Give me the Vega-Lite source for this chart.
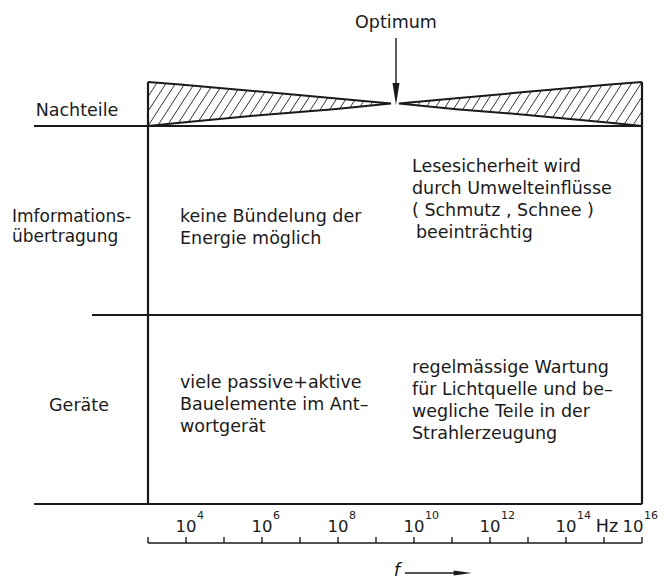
{
  "$schema": "https://vega.github.io/schema/vega-lite/v6.json",
  "width": 664,
  "height": 581,
  "padding": 0,
  "autosize": {"type": "fit", "contains": "padding"},
  "background": "white",
  "config": {"view": {"stroke": null}},
  "datasets": {
    "hatch": [
      {"a": 3, "b": 96.7, "c": 3.25, "d": 82},
      {"a": 3, "b": 111.3, "c": 3.5, "d": 82},
      {"a": 3, "b": 126, "c": 3.75, "d": 82},
      {"a": 3.25, "b": 126, "c": 4, "d": 82},
      {"a": 3.5, "b": 126, "c": 4.25, "d": 82},
      {"a": 3.75, "b": 126, "c": 4.5, "d": 82},
      {"a": 4, "b": 126, "c": 4.75, "d": 82},
      {"a": 4.25, "b": 126, "c": 5, "d": 82},
      {"a": 4.5, "b": 126, "c": 5.25, "d": 82},
      {"a": 4.75, "b": 126, "c": 5.5, "d": 82},
      {"a": 5, "b": 126, "c": 5.75, "d": 82},
      {"a": 5.25, "b": 126, "c": 6, "d": 82},
      {"a": 5.5, "b": 126, "c": 6.25, "d": 82},
      {"a": 5.75, "b": 126, "c": 6.5, "d": 82},
      {"a": 6, "b": 126, "c": 6.75, "d": 82},
      {"a": 6.25, "b": 126, "c": 7, "d": 82},
      {"a": 6.5, "b": 126, "c": 7.25, "d": 82},
      {"a": 6.75, "b": 126, "c": 7.5, "d": 82},
      {"a": 7, "b": 126, "c": 7.75, "d": 82},
      {"a": 7.25, "b": 126, "c": 8, "d": 82},
      {"a": 7.5, "b": 126, "c": 8.25, "d": 82},
      {"a": 7.75, "b": 126, "c": 8.5, "d": 82},
      {"a": 8, "b": 126, "c": 8.75, "d": 82},
      {"a": 8.25, "b": 126, "c": 9, "d": 82},
      {"a": 8.5, "b": 126, "c": 9.25, "d": 82},
      {"a": 8.75, "b": 126, "c": 9.5, "d": 82},
      {"a": 9, "b": 126, "c": 9.75, "d": 82},
      {"a": 9.25, "b": 126, "c": 10, "d": 82},
      {"a": 9.5, "b": 126, "c": 10.25, "d": 82},
      {"a": 9.75, "b": 126, "c": 10.5, "d": 82},
      {"a": 10, "b": 126, "c": 10.75, "d": 82},
      {"a": 10.25, "b": 126, "c": 11, "d": 82},
      {"a": 10.5, "b": 126, "c": 11.25, "d": 82},
      {"a": 10.75, "b": 126, "c": 11.5, "d": 82},
      {"a": 11, "b": 126, "c": 11.75, "d": 82},
      {"a": 11.25, "b": 126, "c": 12, "d": 82},
      {"a": 11.5, "b": 126, "c": 12.25, "d": 82},
      {"a": 11.75, "b": 126, "c": 12.5, "d": 82},
      {"a": 12, "b": 126, "c": 12.75, "d": 82},
      {"a": 12.25, "b": 126, "c": 13, "d": 82},
      {"a": 12.5, "b": 126, "c": 13.25, "d": 82},
      {"a": 12.75, "b": 126, "c": 13.5, "d": 82},
      {"a": 13, "b": 126, "c": 13.75, "d": 82},
      {"a": 13.25, "b": 126, "c": 14, "d": 82},
      {"a": 13.5, "b": 126, "c": 14.25, "d": 82},
      {"a": 13.75, "b": 126, "c": 14.5, "d": 82},
      {"a": 14, "b": 126, "c": 14.75, "d": 82},
      {"a": 14.25, "b": 126, "c": 15, "d": 82},
      {"a": 14.5, "b": 126, "c": 15.25, "d": 82},
      {"a": 14.75, "b": 126, "c": 15.5, "d": 82},
      {"a": 15, "b": 126, "c": 15.75, "d": 82},
      {"a": 15.25, "b": 126, "c": 16, "d": 82},
      {"a": 15.5, "b": 126, "c": 16, "d": 96.7},
      {"a": 15.75, "b": 126, "c": 16, "d": 111.3}
    ],
    "wedge": [
      {"e": 3, "top": 82, "bot": 126},
      {"e": 3.842, "top": 84.6, "bot": 122.8},
      {"e": 6.092, "top": 92.1, "bot": 114.7},
      {"e": 7.887, "top": 98.2, "bot": 109.2},
      {"e": 9.395, "top": 103.4, "bot": 103.4},
      {"e": 9.605, "top": 103.4, "bot": 103.4},
      {"e": 11.113, "top": 98.2, "bot": 109.2},
      {"e": 12.908, "top": 92.1, "bot": 114.7},
      {"e": 15.158, "top": 84.6, "bot": 122.8},
      {"e": 16, "top": 82, "bot": 126}
    ],
    "outline": [
      {"w": "L", "o": 1, "e": 3, "y": 82},
      {"w": "L", "o": 2, "e": 3.842, "y": 84.6},
      {"w": "L", "o": 3, "e": 6.092, "y": 92.1},
      {"w": "L", "o": 4, "e": 7.887, "y": 98.2},
      {"w": "L", "o": 5, "e": 9.395, "y": 103.4},
      {"w": "L", "o": 6, "e": 7.887, "y": 109.2},
      {"w": "L", "o": 7, "e": 6.092, "y": 114.7},
      {"w": "L", "o": 8, "e": 3.842, "y": 122.8},
      {"w": "L", "o": 9, "e": 3, "y": 126},
      {"w": "R", "o": 1, "e": 16, "y": 82},
      {"w": "R", "o": 2, "e": 15.158, "y": 84.6},
      {"w": "R", "o": 3, "e": 12.908, "y": 92.1},
      {"w": "R", "o": 4, "e": 11.113, "y": 98.2},
      {"w": "R", "o": 5, "e": 9.605, "y": 103.4},
      {"w": "R", "o": 6, "e": 11.113, "y": 109.2},
      {"w": "R", "o": 7, "e": 12.908, "y": 114.7},
      {"w": "R", "o": 8, "e": 15.158, "y": 122.8},
      {"w": "R", "o": 9, "e": 16, "y": 126}
    ],
    "frame": [
      {"a": 0, "b": 126, "c": 16, "d": 126},
      {"a": 1.526, "b": 315, "c": 16, "d": 315},
      {"a": 0, "b": 504, "c": 16, "d": 504},
      {"a": 3, "b": 82, "c": 3, "d": 504},
      {"a": 16, "b": 82, "c": 16, "d": 504}
    ],
    "thin": [
      {"a": 3, "b": 543, "c": 16, "d": 543},
      {"a": 9.526, "b": 38, "c": 9.526, "d": 86},
      {"a": 9.763, "b": 573, "c": 11.08, "d": 573}
    ],
    "ticks": [
      {"e": 3}, {"e": 4}, {"e": 5}, {"e": 6}, {"e": 7}, {"e": 8}, {"e": 9},
      {"e": 10}, {"e": 11}, {"e": 12}, {"e": 13}, {"e": 14}, {"e": 15}, {"e": 16}
    ],
    "headDown": [{"e": 9.526, "y": 94}],
    "headRight": [{"e": 11.28, "y": 573}],
    "centerText": [
      {"e": 1.132, "y": 115.5, "t": "Nachteile"},
      {"e": 1.184, "y": 411, "t": "Geräte"},
      {"e": 9.526, "y": 28, "t": "Optimum"}
    ],
    "rowText": [
      {"e": -0.579, "y": 222, "t": "Imformations-"},
      {"e": -0.579, "y": 242, "t": "übertragung"}
    ],
    "leftText": [
      {"e": 3.842, "y": 222, "t": "keine Bündelung der"},
      {"e": 3.842, "y": 244, "t": "Energie möglich"},
      {"e": 9.947, "y": 172, "t": "Lesesicherheit wird"},
      {"e": 9.947, "y": 194, "t": "durch Umwelteinflüsse"},
      {"e": 9.947, "y": 216, "t": "( Schmutz , Schnee )"},
      {"e": 10.05, "y": 238, "t": "beeinträchtig"},
      {"e": 3.842, "y": 388, "t": "viele passive+aktive"},
      {"e": 3.842, "y": 410, "t": "Bauelemente im Ant–"},
      {"e": 3.842, "y": 432, "t": "wortgerät"},
      {"e": 9.947, "y": 373, "t": "regelmässige Wartung"},
      {"e": 9.947, "y": 395, "t": "für Lichtquelle und be–"},
      {"e": 9.947, "y": 417, "t": "wegliche Teile in der"},
      {"e": 9.947, "y": 439, "t": "Strahlerzeugung"}
    ],
    "tens": [
      {"e": 4, "t": "10", "s": "4"},
      {"e": 6, "t": "10", "s": "6"},
      {"e": 8, "t": "10", "s": "8"},
      {"e": 10, "t": "10", "s": "10"},
      {"e": 12, "t": "10", "s": "12"},
      {"e": 14, "t": "10", "s": "14"},
      {"e": 15.76, "t": "10", "s": "16"}
    ],
    "unit": [{"e": 15.08, "t": "Hz"}],
    "fvar": [{"e": 9.55, "t": "f"}]
  },
  "encoding": {
    "x": {"type": "quantitative", "scale": {"domain": [-0.8947, 16.5789], "nice": false, "zero": false}, "axis": null},
    "y": {"type": "quantitative", "scale": {"domain": [0, 581], "reverse": true, "nice": false, "zero": false}, "axis": null}
  },
  "layer": [
    {
      "data": {"name": "hatch"},
      "mark": {"type": "rule", "stroke": "#333", "strokeWidth": 1},
      "encoding": {
        "x": {"field": "a", "type": "quantitative"},
        "y": {"field": "b", "type": "quantitative"},
        "x2": {"field": "c"},
        "y2": {"field": "d"}
      }
    },
    {
      "data": {"name": "wedge"},
      "mark": {"type": "area", "fill": "white", "stroke": null},
      "encoding": {
        "x": {"field": "e", "type": "quantitative"},
        "y": {"field": "top", "type": "quantitative"},
        "y2": {"datum": 76}
      }
    },
    {
      "data": {"name": "wedge"},
      "mark": {"type": "area", "fill": "white", "stroke": null},
      "encoding": {
        "x": {"field": "e", "type": "quantitative"},
        "y": {"field": "bot", "type": "quantitative"},
        "y2": {"datum": 130}
      }
    },
    {
      "data": {"name": "outline"},
      "mark": {"type": "line", "stroke": "#1a1a1a", "strokeWidth": 2},
      "encoding": {
        "x": {"field": "e", "type": "quantitative"},
        "y": {"field": "y", "type": "quantitative"},
        "detail": {"field": "w"},
        "order": {"field": "o", "type": "quantitative"}
      }
    },
    {
      "data": {"name": "frame"},
      "mark": {"type": "rule", "stroke": "#1a1a1a", "strokeWidth": 2.2},
      "encoding": {
        "x": {"field": "a", "type": "quantitative"},
        "y": {"field": "b", "type": "quantitative"},
        "x2": {"field": "c"},
        "y2": {"field": "d"}
      }
    },
    {
      "data": {"name": "thin"},
      "mark": {"type": "rule", "stroke": "#1a1a1a", "strokeWidth": 1.4},
      "encoding": {
        "x": {"field": "a", "type": "quantitative"},
        "y": {"field": "b", "type": "quantitative"},
        "x2": {"field": "c"},
        "y2": {"field": "d"}
      }
    },
    {
      "data": {"name": "ticks"},
      "mark": {"type": "rule", "stroke": "#1a1a1a", "strokeWidth": 1.4},
      "encoding": {
        "x": {"field": "e", "type": "quantitative"},
        "y": {"datum": 543},
        "y2": {"datum": 537}
      }
    },
    {
      "data": {"name": "headDown"},
      "mark": {"type": "point", "shape": "M-0.32,-1L0.32,-1L0,1Z", "size": 484, "filled": true, "fill": "#1a1a1a", "stroke": null, "opacity": 1},
      "encoding": {
        "x": {"field": "e", "type": "quantitative"},
        "y": {"field": "y", "type": "quantitative"}
      }
    },
    {
      "data": {"name": "headRight"},
      "mark": {"type": "point", "shape": "M-1,-0.28L1,0L-1,0.28Z", "size": 324, "filled": true, "fill": "#1a1a1a", "stroke": null, "opacity": 1},
      "encoding": {
        "x": {"field": "e", "type": "quantitative"},
        "y": {"field": "y", "type": "quantitative"}
      }
    },
    {
      "data": {"name": "centerText"},
      "mark": {"type": "text", "align": "center", "baseline": "alphabetic", "font": "DejaVu Sans", "fontSize": 17.5, "fill": "#1a1a1a"},
      "encoding": {
        "x": {"field": "e", "type": "quantitative"},
        "y": {"field": "y", "type": "quantitative"},
        "text": {"field": "t"}
      }
    },
    {
      "data": {"name": "rowText"},
      "mark": {"type": "text", "align": "left", "baseline": "alphabetic", "font": "DejaVu Sans", "fontSize": 17, "fill": "#1a1a1a"},
      "encoding": {
        "x": {"field": "e", "type": "quantitative"},
        "y": {"field": "y", "type": "quantitative"},
        "text": {"field": "t"}
      }
    },
    {
      "data": {"name": "leftText"},
      "mark": {"type": "text", "align": "left", "baseline": "alphabetic", "font": "DejaVu Sans", "fontSize": 17.5, "fill": "#1a1a1a"},
      "encoding": {
        "x": {"field": "e", "type": "quantitative"},
        "y": {"field": "y", "type": "quantitative"},
        "text": {"field": "t"}
      }
    },
    {
      "data": {"name": "tens"},
      "mark": {"type": "text", "align": "center", "baseline": "alphabetic", "font": "DejaVu Sans", "fontSize": 16.5, "fill": "#1a1a1a"},
      "encoding": {
        "x": {"field": "e", "type": "quantitative"},
        "y": {"datum": 532},
        "text": {"field": "t"}
      }
    },
    {
      "data": {"name": "tens"},
      "mark": {"type": "text", "align": "left", "baseline": "alphabetic", "font": "DejaVu Sans", "fontSize": 11, "fill": "#1a1a1a", "dx": 11},
      "encoding": {
        "x": {"field": "e", "type": "quantitative"},
        "y": {"datum": 519},
        "text": {"field": "s"}
      }
    },
    {
      "data": {"name": "unit"},
      "mark": {"type": "text", "align": "center", "baseline": "alphabetic", "font": "DejaVu Sans", "fontSize": 17.5, "fill": "#1a1a1a"},
      "encoding": {
        "x": {"field": "e", "type": "quantitative"},
        "y": {"datum": 532},
        "text": {"field": "t"}
      }
    },
    {
      "data": {"name": "fvar"},
      "mark": {"type": "text", "align": "center", "baseline": "alphabetic", "font": "DejaVu Sans", "fontSize": 18, "fontStyle": "italic", "fill": "#1a1a1a"},
      "encoding": {
        "x": {"field": "e", "type": "quantitative"},
        "y": {"datum": 576},
        "text": {"field": "t"}
      }
    }
  ]
}
